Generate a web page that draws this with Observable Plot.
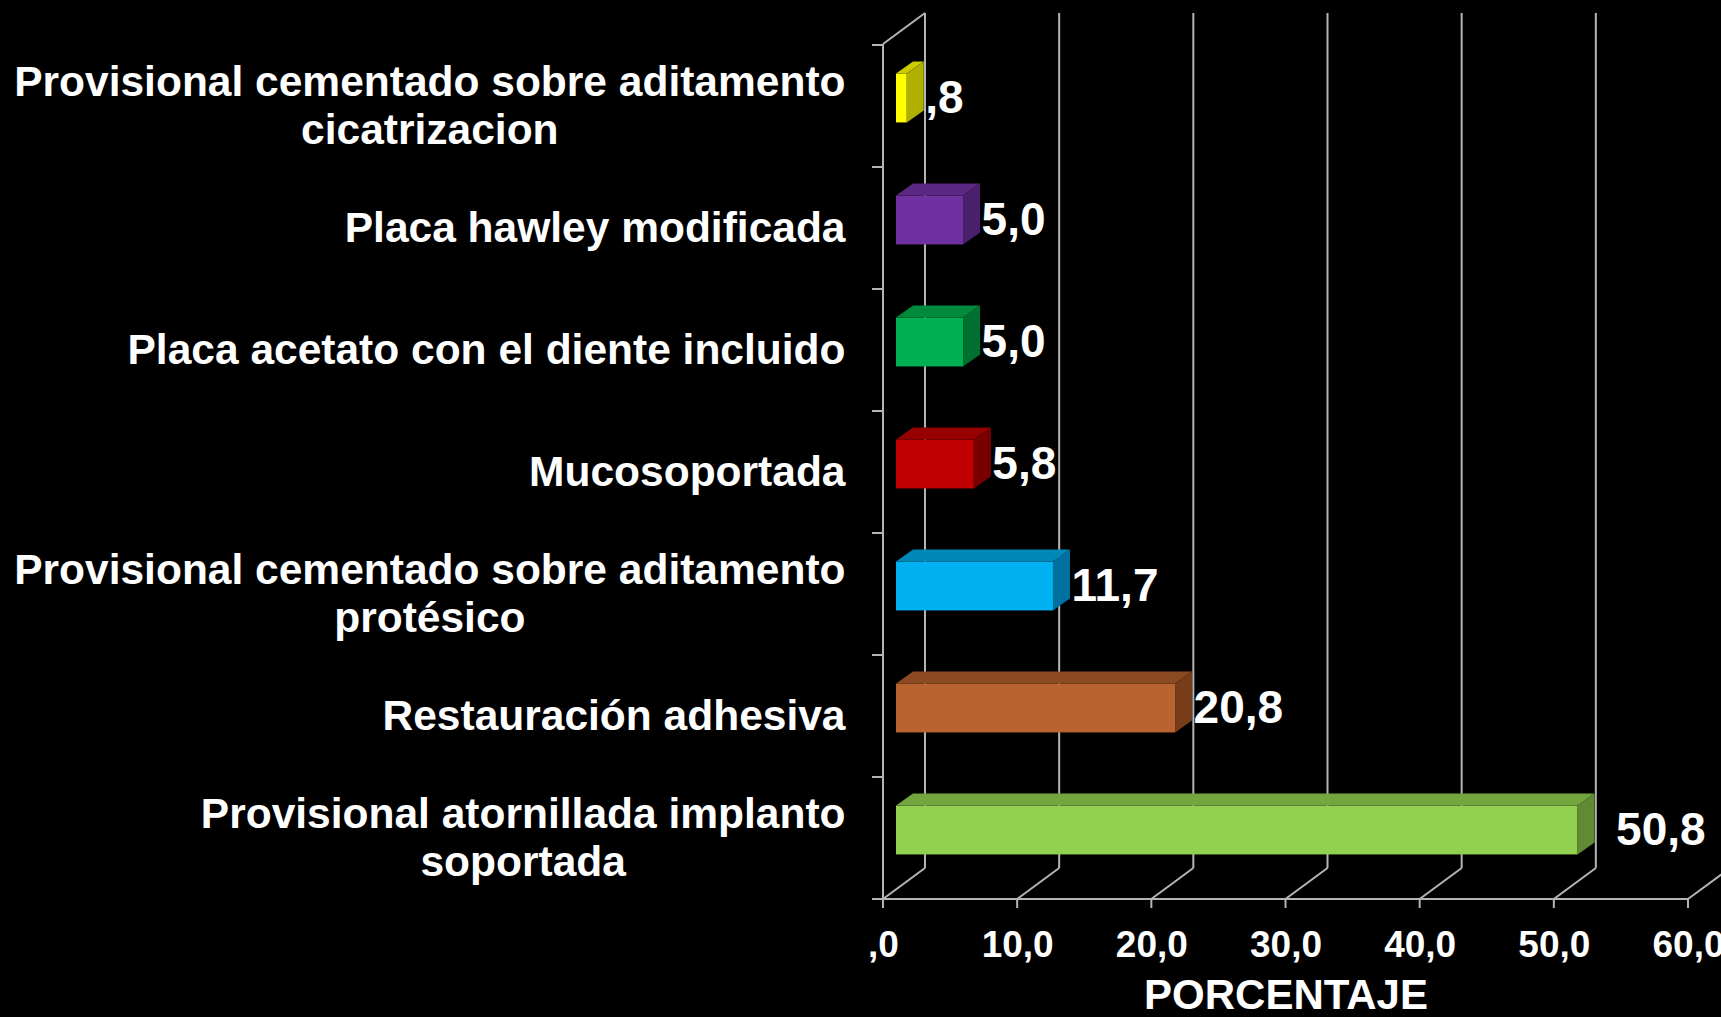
<!DOCTYPE html>
<html>
<head>
<meta charset="utf-8">
<script src="https://cdn.jsdelivr.net/npm/d3@7"></script>
<script src="https://cdn.jsdelivr.net/npm/@observablehq/plot@0.6"></script>
<style>
  html, body { margin: 0; padding: 0; background: #000; }
  #chart svg { display: block; }
</style>
</head>
<body>
<div id="chart"></div>
<script>
// ---- data ----
const categories = [
  "Provisional cementado sobre aditamento\ncicatrizacion",
  "Placa hawley modificada",
  "Placa acetato con el diente incluido",
  "Mucosoportada",
  "Provisional cementado sobre aditamento\nprotésico",
  "Restauración adhesiva",
  "Provisional atornillada implanto\nsoportada"
];
const values = [0.8, 5.0, 5.0, 5.8, 11.7, 20.8, 50.8];
const xTicks = [0, 10, 20, 30, 40, 50, 60];
const axisTitle = "PORCENTAJE";

// ---- palette (front, top, side) ----
const frontColors = ["#ffff00", "#7030a0", "#00b050", "#c00000", "#00b0f0", "#b96430", "#92d050"];
const topColors   = ["#cccc00", "#5a2782", "#008a3c", "#960000", "#0088b8", "#8b4a22", "#74a640"];
const sideColors  = ["#b0b000", "#4a1f6c", "#007030", "#7a0000", "#0070a0", "#773c1a", "#618a35"];

const data = categories.map((c, i) => ({cat: c, value: values[i], i}));

const fmt = v => {
  let s = v.toFixed(1).replace(".", ",");
  if (s.startsWith("0,")) s = s.slice(1);
  return s;
};

// geometry constants (pixels)
const GRID = "#b4b4b4";
const WALL_DX = 42, WALL_DY = -31;   // depth of the 3D box
const BAR_DX = 13, BAR_DY = -8;      // bar offset inside the box
const DEPTH_DX = 17, DEPTH_DY = -12; // bar depth
const BAR_H = 49;
const FONT = "'Liberation Sans', Arial, sans-serif";
const CAT_FS = 42.5;

// measure label lines
const ctx = document.createElement("canvas").getContext("2d");
ctx.font = `bold ${CAT_FS}px ${FONT}`;

function frame3d(index, scales, values_, dims) {
  const {x, y} = scales;
  const top = dims.marginTop, bottom = dims.height - dims.marginBottom;
  const g = d3.create("svg:g").attr("stroke", GRID).attr("stroke-width", 2).attr("fill", "none");
  const line = (x1, y1, x2, y2) => g.append("line").attr("x1", x1).attr("y1", y1).attr("x2", x2).attr("y2", y2);
  for (const t of xTicks) {
    const px = x(t);
    line(px + WALL_DX, top + WALL_DY, px + WALL_DX, bottom + WALL_DY); // back wall grid
    line(px, bottom, px + WALL_DX, bottom + WALL_DY); // floor diagonals
    line(px, bottom, px, bottom + 9); // tick marks
  }
  const x0 = x(0);
  line(x0, bottom, x(xTicks[xTicks.length - 1]), bottom); // front baseline
  line(x0, top, x0, bottom); // left front axis
  line(x0, top, x0 + WALL_DX, top + WALL_DY); // top diagonal
  const bounds = categories.map(c => y(c)).concat([bottom]);
  for (const b of bounds) line(x0 - 11, b, x0, b);
  return g.node();
}

function barFaces(index, scales) {
  const {x, y} = scales;
  const bw = y.bandwidth ? y.bandwidth() : 122;
  const inset = (bw - BAR_H) / 2;
  const g = d3.create("svg:g");
  for (const d of data) {
    const x0 = x(0) + BAR_DX, x1 = x(d.value) + BAR_DX;
    const yT = y(d.cat) + inset + BAR_DY, yB = yT + BAR_H;
    g.append("polygon")
      .attr("points", [[x0, yT], [x1, yT], [x1 + DEPTH_DX, yT + DEPTH_DY], [x0 + DEPTH_DX, yT + DEPTH_DY]].map(p => p.join(",")).join(" "))
      .attr("fill", topColors[d.i]);
    g.append("polygon")
      .attr("points", [[x1, yT], [x1 + DEPTH_DX, yT + DEPTH_DY], [x1 + DEPTH_DX, yB + DEPTH_DY], [x1, yB]].map(p => p.join(",")).join(" "))
      .attr("fill", sideColors[d.i]);
  }
  return g.node();
}

// category label marks (one per line, centered block, right-aligned)
const labelMarks = [];
categories.forEach(c => {
  const lines = c.split("\n");
  const maxW = d3.max(lines, l => ctx.measureText(l).width);
  lines.forEach((l, k) => {
    labelMarks.push(Plot.text([c], {
      y: d => d,
      frameAnchor: "left",
      text: () => l,
      textAnchor: "middle",
      lineAnchor: "middle",
      dx: -38 - maxW / 2,
      dy: (k - (lines.length - 1) / 2) * 48,
      fontSize: CAT_FS,
      fontWeight: "bold",
      fill: "#fff"
    }));
  });
});

const lastVal = d3.max(values);
const bandH = (1017 - 44 - 118) / categories.length;

const chart = Plot.plot({
  width: 1721,
  height: 1017,
  marginLeft: 883,
  marginRight: 33,
  marginTop: 44,
  marginBottom: 118,
  style: {background: "#000", color: "#fff", fontFamily: FONT},
  x: {domain: [0, 60], axis: null},
  y: {domain: categories, axis: null, padding: 0},
  color: {type: "identity"},
  marks: [
    frame3d,
    Plot.barX(data, {
      y: "cat", x1: 0, x2: "value",
      fill: d => frontColors[d.i],
      insetTop: (bandH - BAR_H) / 2, insetBottom: (bandH - BAR_H) / 2,
      dx: BAR_DX, dy: BAR_DY
    }),
    barFaces,
    Plot.text(data.filter(d => d.value !== lastVal), {
      x: "value", y: "cat", text: d => fmt(d.value),
      textAnchor: "start", lineAnchor: "middle",
      dx: BAR_DX + DEPTH_DX + 1, dy: BAR_DY,
      fontSize: 46, fontWeight: "bold", fill: "#fff"
    }),
    Plot.text(data.filter(d => d.value === lastVal), {
      x: "value", y: "cat", text: d => fmt(d.value),
      textAnchor: "start", lineAnchor: "middle",
      dx: BAR_DX + DEPTH_DX + 21, dy: BAR_DY,
      fontSize: 46, fontWeight: "bold", fill: "#fff"
    }),
    Plot.text(xTicks, {
      x: d => d, frameAnchor: "bottom", text: d => fmt(d),
      lineAnchor: "middle", dy: 46,
      fontSize: 37, fontWeight: "bold", fill: "#fff"
    }),
    Plot.text([axisTitle], {
      x: 30, frameAnchor: "bottom", text: d => d,
      lineAnchor: "middle", dy: 96,
      fontSize: 42, fontWeight: "bold", fill: "#fff"
    }),
    ...labelMarks
  ]
});
document.getElementById("chart").appendChild(chart);
</script>
</body>
</html>
